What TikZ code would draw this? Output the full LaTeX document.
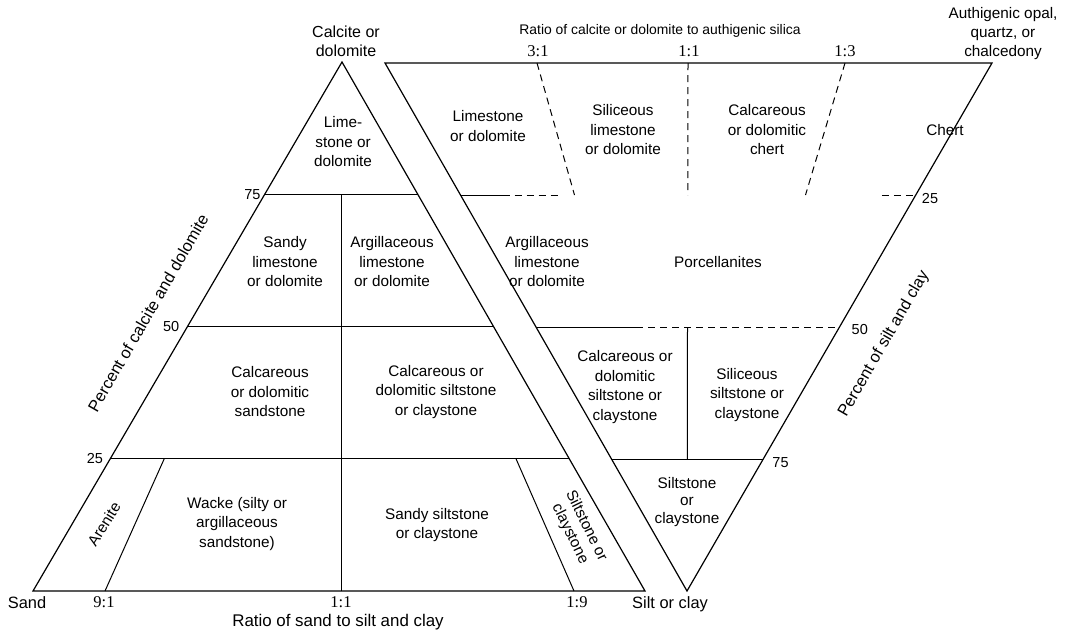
\documentclass[tikz,border=0pt]{standalone}
\usepackage{fontspec}
\setmainfont{Liberation Sans}
\newfontfamily\numfont{Liberation Serif}
\usetikzlibrary{calc}
\begin{document}
\begin{tikzpicture}[x=1pt,y=-1pt,
  edge/.style={line width=1.2pt, line join=miter},
  div/.style={line width=1pt},
  dashline/.style={line width=1pt, dash pattern=on 7pt off 5pt},
  lbl/.style={align=center, inner sep=0pt, font=\fontsize{15.3}{19.5}\selectfont},
  axis/.style={inner sep=0pt, font=\fontsize{16.4}{19}\selectfont},
  num/.style={inner sep=0pt, font=\fontsize{14.5}{17}\selectfont},
  ratio/.style={inner sep=0pt, font=\numfont\fontsize{16.5}{17}\selectfont}]
\useasboundingbox (0,0) rectangle (1065,635);

% ---- carbonate / sand / silt-clay triangle ----
\coordinate (A) at (33,591);
\coordinate (B) at (645,591);
\coordinate (C) at (342,62);
\draw[edge] (A) -- (B) -- (C) -- cycle;

\coordinate (L75a) at ($(A)!0.75!(C)$);
\coordinate (L75b) at ($(B)!0.75!(C)$);
\coordinate (L50a) at ($(A)!0.5!(C)$);
\coordinate (L50b) at ($(B)!0.5!(C)$);
\coordinate (L25a) at ($(A)!0.25!(C)$);
\coordinate (L25b) at ($(B)!0.25!(C)$);
\draw[div] (L75a) -- (L75b);
\draw[div] (L50a) -- (L50b);
\draw[div] (L25a) -- (L25b);

\coordinate (M11) at (341,591);
\draw[div] (M11) -- (M11 |- L75a);
\coordinate (P91) at (105,591);
\coordinate (P19) at (574,591);
\draw[div] (P91) -- ($(P91)!0.25!(C)$);
\draw[div] (P19) -- ($(P19)!0.25!(C)$);

% ---- carbonate / silt-clay / authigenic silica triangle ----
\coordinate (D) at (385,63);
\coordinate (E) at (992,63);
\coordinate (F) at (687,591);
\draw[edge] (D) -- (E) -- (F) -- cycle;

\coordinate (T31) at (537,63);
\coordinate (T11) at (688,63);
\coordinate (T13) at (845,63);
\draw[dashline] (T31) -- ($(T31)!0.25!(F)$);
\draw[dashline] (T11) -- ($(T11)!0.25!(F)$);
\draw[dashline] (T13) -- ($(T13)!0.25!(F)$);

\coordinate (R25a) at ($(D)!0.25!(F)$);
\coordinate (R25b) at ($(E)!0.25!(F)$);
\draw[div] (R25a) -- ($(R25a)+(42,0)$);
\draw[dashline] ($(R25a)+(42,0)$) -- ($(R25a)+(97,0)$);
\draw[dashline] ($(R25b)+(-34,0)$) -- (R25b);

\coordinate (R50a) at ($(D)!0.5!(F)$);
\coordinate (R50b) at ($(E)!0.5!(F)$);
\draw[div] (R50a) -- ($(R50a)+(100,0)$);
\draw[dashline] ($(R50a)+(100,0)$) -- (R50b);
\draw[div] ($(F)!0.5!(T11)$) -- ($(F)!0.25!(T11)$);

\coordinate (R75a) at ($(D)!0.75!(F)$);
\coordinate (R75b) at ($(E)!0.75!(F)$);
\draw[div] (R75a) -- (R75b);

% ---- corner and axis labels ----
\node[lbl, font=\fontsize{16}{19}\selectfont] (calc) at (346,41) {Calcite or\\dolomite};
\node[lbl, font=\fontsize{15.3}{19}\selectfont] (silica) at (1003,34) {Authigenic opal,\\quartz, or\\chalcedony};
\node[axis, font=\fontsize{13.9}{17}\selectfont] (topaxis) at (660,31) {Ratio of calcite or dolomite to authigenic silica};
\node[ratio] (r31) at (538,51) {3:1};
\node[ratio] (r11t) at (689,51) {1:1};
\node[ratio] (r13) at (845,51) {1:3};

\node[axis] (sand) at (27,603) {Sand};
\node[ratio] (r91) at (104,602) {9:1};
\node[ratio] (r11b) at (341,602) {1:1};
\node[ratio] (r19) at (577,602) {1:9};
\node[axis, anchor=west] (silt) at (632,604) {Silt or clay};
\node[axis, font=\fontsize{16.9}{19}\selectfont] (botaxis) at (338,622) {Ratio of sand to silt and clay};

\node[num, anchor=east] (n75l) at ($(L75a)+(-4,0)$) {75};
\node[num, anchor=east] (n50l) at ($(L50a)+(-8,0)$) {50};
\node[num, anchor=east] (n25l) at ($(L25a)+(-7,0)$) {25};
\node[axis, rotate=60] (pcal) at (148,313) {Percent of calcite and dolomite};

\node[num, anchor=west] (n25r) at ($(R25b)+(6,4)$) {25};
\node[num, anchor=west] (n50r) at ($(R50b)+(12,3)$) {50};
\node[num, anchor=west] (n75r) at ($(R75b)+(9,4)$) {75};
\node[axis, rotate=60] (psilt) at (884,344) {Percent of silt and clay};

% ---- field names, left triangle ----
\node[lbl] (f1) at (343,142) {Lime-\\stone or\\dolomite};
\node[lbl] (f2) at (285,262) {Sandy\\limestone\\or dolomite};
\node[lbl] (f3) at (392,262) {Argillaceous\\limestone\\or dolomite};
\node[lbl] (f4) at (270,392) {Calcareous\\or dolomitic\\sandstone};
\node[lbl] (f5) at (436,392) {Calcareous or\\dolomitic siltstone\\or claystone};
\node[lbl, rotate=58] (f6) at (104,524) {Arenite};
\node[lbl] (f7) at (237,524) {Wacke (silty or\\argillaceous\\sandstone)};
\node[lbl] (f8) at (437,525) {Sandy siltstone\\or claystone};
\node[lbl, rotate=-64, font=\fontsize{15.3}{18}\selectfont] (f9) at (578,530) {Siltstone or\\claystone};

% ---- field names, right triangle ----
\node[lbl] (g1) at (488,126) {Limestone\\or dolomite};
\node[lbl] (g2) at (623,130) {Siliceous\\limestone\\or dolomite};
\node[lbl] (g3) at (767,130) {Calcareous\\or dolomitic\\chert};
\node[lbl] (g4) at (945,130) {Chert};
\node[lbl] (g5) at (547,262) {Argillaceous\\limestone\\or dolomite};
\node[lbl] (g6) at (718,262) {Porcellanites};
\node[lbl] (g7) at (625,387) {Calcareous or\\dolomitic\\siltstone or\\claystone};
\node[lbl] (g8) at (747,395) {Siliceous\\siltstone or\\claystone};
\node[lbl, font=\fontsize{15.3}{17.5}\selectfont] (g9) at (687,502) {Siltstone\\or\\claystone};
\end{tikzpicture}
\end{document}
